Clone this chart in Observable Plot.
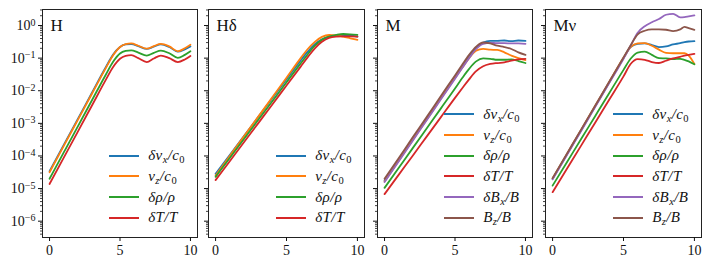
<!DOCTYPE html>
<html><head><meta charset="utf-8">
<script src="https://cdn.jsdelivr.net/npm/d3@7"></script>
<script src="https://cdn.jsdelivr.net/npm/@observablehq/plot@0.6"></script>
<style>
body{margin:0;background:#fff;}
#chart{position:relative;width:709px;height:263px;overflow:hidden;font-family:"Liberation Serif",serif;background:#fff;}
#chart svg{position:absolute;top:0;}
.legend{position:absolute;display:grid;grid-template-columns:30px auto;column-gap:9px;align-items:center;font-style:italic;font-size:15px;letter-spacing:0.4px;color:#111;}
.legend .sw{height:2px;}
.legend .lb{height:20.7px;line-height:20.7px;white-space:nowrap;}
.legend sub{font-size:0.7em;vertical-align:-0.3em;line-height:0;}
.legend .r{font-style:normal;}
</style></head><body><div id="chart"></div>
<script>
// ---- series meta ----
const seriesNames = ["dvx", "vz", "drho", "dT", "dBx", "Bz"];
const seriesColors = ["#1f77b4", "#ff7f0e", "#2ca02c", "#d62728", "#9467bd", "#8c564b"];
const legendLabels = [
  'δv<sub>x</sub>/c<sub class="r">0</sub>',
  'v<sub>z</sub>/c<sub class="r">0</sub>',
  'δρ/ρ',
  'δT/T',
  'δB<sub>x</sub>/B',
  'B<sub>z</sub>/B'
];
const panelTitles = ["H", "Hδ", "M", "Mν"];
const xTicks = [0, 5, 10];
const yMajorTicks = [1e-6, 1e-5, 1e-4, 1e-3, 1e-2, 1e-1, 1];
const yExponentLabels = ["−6", "−5", "−4", "−3", "−2", "−1", "0"];

// ---- panel H ----
const xH = [0, 1, 2, 3, 4, 4.5, 5, 5.4, 5.8, 6.3, 6.9, 7.4, 7.9, 8.5, 9.1, 9.6, 10];
const H_dvx = [3.39e-5, 2.14e-4, 1.35e-3, 8.51e-3, 0.0537, 0.126, 0.219, 0.263, 0.269, 0.234, 0.191, 0.224, 0.263, 0.219, 0.158, 0.186, 0.229];
const H_vz = [3.16e-5, 2.00e-4, 1.26e-3, 7.94e-3, 0.0501, 0.120, 0.219, 0.269, 0.282, 0.240, 0.195, 0.234, 0.275, 0.229, 0.162, 0.200, 0.257];
const H_drho = [2.00e-5, 1.26e-4, 7.94e-4, 5.01e-3, 0.0316, 0.0759, 0.138, 0.166, 0.174, 0.148, 0.120, 0.145, 0.170, 0.141, 0.102, 0.126, 0.162];
const H_dT = [1.38e-5, 8.71e-5, 5.50e-4, 3.47e-3, 0.0219, 0.0525, 0.0955, 0.117, 0.123, 0.100, 0.0759, 0.0977, 0.120, 0.100, 0.0759, 0.0912, 0.117];

// ---- panel H delta ----
const xHd = [0, 1, 2, 3, 4, 5, 6, 6.5, 7, 7.5, 8, 8.5, 9, 9.5, 10];
const Hd_dvx = [2.82e-5, 1.07e-4, 4.07e-4, 1.55e-3, 5.89e-3, 0.0224, 0.0851, 0.158, 0.269, 0.380, 0.457, 0.490, 0.501, 0.490, 0.457];
const Hd_vz = [2.51e-5, 1.00e-4, 3.98e-4, 1.58e-3, 6.31e-3, 0.0251, 0.100, 0.191, 0.316, 0.447, 0.513, 0.501, 0.457, 0.407, 0.363];
const Hd_drho = [2.29e-5, 8.71e-5, 3.31e-4, 1.26e-3, 4.79e-3, 0.0182, 0.0692, 0.132, 0.240, 0.363, 0.457, 0.513, 0.550, 0.537, 0.513];
const Hd_dT = [1.82e-5, 6.92e-5, 2.63e-4, 1.00e-3, 3.80e-3, 0.0145, 0.0550, 0.107, 0.200, 0.316, 0.417, 0.457, 0.468, 0.468, 0.457];

// ---- panel M ----
const xM = [0, 1, 2, 3, 4, 5, 5.5, 6, 6.5, 7, 7.5, 8, 8.5, 9, 9.5, 10];
const M_dvx = [1.78e-5, 7.59e-5, 3.31e-4, 1.41e-3, 6.17e-3, 0.0263, 0.0550, 0.112, 0.209, 0.302, 0.339, 0.339, 0.347, 0.331, 0.347, 0.339];
const M_vz = [1.66e-5, 7.08e-5, 3.09e-4, 1.32e-3, 5.75e-3, 0.0245, 0.0501, 0.100, 0.170, 0.191, 0.182, 0.178, 0.151, 0.120, 0.100, 0.0871];
const M_drho = [1.05e-5, 4.27e-5, 1.74e-4, 7.08e-4, 2.88e-3, 0.0117, 0.0240, 0.0468, 0.0794, 0.0977, 0.0955, 0.0891, 0.0891, 0.0912, 0.0813, 0.0708];
const M_dT = [6.76e-6, 2.63e-5, 1.02e-4, 3.98e-4, 1.55e-3, 6.03e-3, 0.0117, 0.0224, 0.0398, 0.0562, 0.0661, 0.0708, 0.0741, 0.0832, 0.0912, 0.0955];
const M_dBx = [1.58e-5, 6.76e-5, 2.95e-4, 1.26e-3, 5.50e-3, 0.0234, 0.0490, 0.100, 0.191, 0.275, 0.295, 0.288, 0.288, 0.282, 0.282, 0.275];
const M_Bz = [2.00e-5, 8.51e-5, 3.72e-4, 1.58e-3, 6.92e-3, 0.0295, 0.0617, 0.126, 0.224, 0.302, 0.282, 0.240, 0.219, 0.191, 0.151, 0.126];

// ---- panel M nu ----
const xMn = [0, 1, 2, 3, 4, 5, 5.5, 6, 6.5, 7, 7.5, 8, 8.5, 9, 9.3, 9.6, 10];
const Mn_dvx = [2.00e-5, 1.10e-4, 6.03e-4, 3.31e-3, 0.0182, 0.100, 0.219, 0.275, 0.282, 0.251, 0.219, 0.229, 0.263, 0.288, 0.309, 0.324, 0.331];
const Mn_vz = [2.04e-5, 1.12e-4, 6.17e-4, 3.39e-3, 0.0186, 0.102, 0.219, 0.282, 0.288, 0.240, 0.182, 0.145, 0.141, 0.141, 0.141, 0.120, 0.0661];
const Mn_drho = [1.23e-5, 6.31e-5, 3.24e-4, 1.66e-3, 8.51e-3, 0.0437, 0.0955, 0.148, 0.158, 0.126, 0.100, 0.0977, 0.0933, 0.0955, 0.0891, 0.0794, 0.0646];
const Mn_dT = [7.76e-6, 3.98e-5, 2.04e-4, 1.05e-3, 5.37e-3, 0.0275, 0.0661, 0.0933, 0.0891, 0.0759, 0.0708, 0.0832, 0.0977, 0.110, 0.120, 0.126, 0.135];
const Mn_dBx = [1.91e-5, 1.05e-4, 5.75e-4, 3.16e-3, 0.0174, 0.0955, 0.240, 0.603, 0.955, 1.26, 1.58, 2.14, 2.29, 1.78, 1.82, 1.91, 2.04];
const Mn_Bz = [2.09e-5, 1.15e-4, 6.31e-4, 3.47e-3, 0.0191, 0.105, 0.245, 0.537, 0.692, 0.759, 0.759, 0.741, 0.676, 0.759, 0.912, 0.832, 0.741];

const panels = [
  {title: panelTitles[0], x: xH, series: [H_dvx, H_vz, H_drho, H_dT]},
  {title: panelTitles[1], x: xHd, series: [Hd_dvx, Hd_vz, Hd_drho, Hd_dT]},
  {title: panelTitles[2], x: xM, series: [M_dvx, M_vz, M_drho, M_dT, M_dBx, M_Bz]},
  {title: panelTitles[3], x: xMn, series: [Mn_dvx, Mn_vz, Mn_drho, Mn_dT, Mn_dBx, Mn_Bz]}
];

// minor log ticks (2..9 x 10^k)
const yMinorTicks = [];
for (let k = -7; k <= 0; k++) for (let m = 2; m <= 9; m++) {
  const v = m * Math.pow(10, k);
  if (v >= 3.16e-7 && v <= 3.1) yMinorTicks.push(v);
}

const frames = [[42, 197], [208, 364], [377, 532], [545, 701]];
const chart = document.getElementById("chart");

panels.forEach((p, i) => {
  const [l, r] = frames[i];
  const svgLeft = i === 0 ? 0 : l - 12;
  const ml = l - svgLeft;
  const mr = 6;
  const width = (r - svgLeft) + mr;
  const rows = [];
  p.series.forEach((vals, s) => vals.forEach((v, j) => rows.push({x: p.x[j], v, s: seriesNames[s]})));
  const plot = Plot.plot({
    width, height: 263,
    marginLeft: ml, marginRight: mr, marginTop: 9, marginBottom: 26,
    x: {domain: [-0.5, 10.5], label: null},
    y: {type: "log", domain: [3.16e-7, 3.1], label: null},
    color: {domain: seriesNames, range: seriesColors},
    style: {fontFamily: "'Liberation Serif', serif", fontSize: "14px", background: "transparent", color: "#111"},
    marks: [
      Plot.line(rows, {x: "x", y: "v", z: "s", stroke: "s", strokeWidth: 1.8, curve: "monotone-x"}),
      Plot.frame({stroke: "#222", strokeWidth: 1}),
      Plot.axisX({ticks: xTicks, tickSize: 4, tickPadding: 4, fontSize: 14, label: null, tickFormat: d => String(d)}),
      Plot.axisY({ticks: yMajorTicks, tickSize: 4, tickPadding: 3, fontSize: 14, label: null,
        tickFormat: i === 0 ? (d => "10^" + yExponentLabels[yMajorTicks.indexOf(d)]) : (() => "")}),
      Plot.axisY({ticks: yMinorTicks, tickSize: 2, strokeWidth: 0.8, label: null, tickFormat: () => ""}),
      Plot.text([p.title], {text: d => d, frameAnchor: "top-left", dx: 8, dy: 9, fontSize: 17, ariaLabel: "panel-title"})
    ]
  });
  plot.style.left = svgLeft + "px";
  // superscripts for log tick labels
  plot.querySelectorAll('g[aria-label="y-axis tick label"] text').forEach(t => {
    const s = t.textContent;
    if (s.startsWith("10^")) {
      t.innerHTML = '10<tspan dy="-0.45em" font-size="10">' + s.slice(3) + '</tspan>';
    }
  });
  const tt = plot.querySelector('g[aria-label="panel-title"] text');
  if (tt) {
    const s = tt.textContent;
    tt.innerHTML = s[0] + (s.length > 1 ? '<tspan font-style="italic">' + s.slice(1) + '</tspan>' : '');
  }
  chart.appendChild(plot);

  // legend (lower right)
  const leg = document.createElement("div");
  leg.className = "legend";
  leg.style.right = (709 - r + 12) + "px";
  leg.style.bottom = "35px";
  p.series.forEach((_, s) => {
    const sw = document.createElement("div");
    sw.className = "sw";
    sw.style.background = seriesColors[s];
    const lb = document.createElement("div");
    lb.className = "lb";
    lb.innerHTML = legendLabels[s];
    leg.appendChild(sw);
    leg.appendChild(lb);
  });
  chart.appendChild(leg);
});
</script>
</body></html>
